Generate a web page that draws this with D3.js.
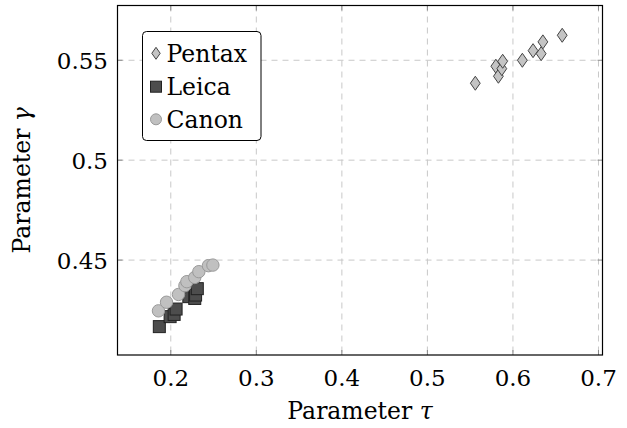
<!DOCTYPE html>
<html>
<head>
<meta charset="utf-8">
<script src="https://cdn.jsdelivr.net/npm/d3@7"></script>
<style>
  body { margin: 0; background: #fff; }
</style>
</head>
<body>
<svg id="chart" width="627" height="428"></svg>
<script>
// data: [tau, gamma]
const pentax = [
  [0.556, 0.5385], [0.580, 0.5470], [0.583, 0.5420], [0.587, 0.5458],
  [0.588, 0.5495], [0.611, 0.5500], [0.6235, 0.5548], [0.633, 0.5533],
  [0.635, 0.5592], [0.6576, 0.5625]
];
const leica = [
  [0.1866, 0.4167], [0.1992, 0.4217], [0.2039, 0.4228], [0.2062, 0.4255],
  [0.2211, 0.4317], [0.228, 0.4308], [0.229, 0.4325], [0.231, 0.4357]
];
const canon = [
  [0.1856, 0.4246], [0.195, 0.4289], [0.209, 0.4328], [0.2165, 0.4372],
  [0.2188, 0.4392], [0.228, 0.4413], [0.2328, 0.4442], [0.244, 0.4472],
  [0.2492, 0.4475]
];
const xTicks = [0.2, 0.3, 0.4, 0.5, 0.6, 0.7];
const yTicks = [0.45, 0.5, 0.55];
const legendNames = ["Pentax", "Leica", "Canon"];

const svg = d3.select('#chart')
  .attr('font-family', "'DejaVu Serif', serif");
const pLeft = 117.5, pRight = 602.5, pTop = 5.5, pBottom = 355;

const x = d3.scaleLinear().domain([0.1377, 0.7047]).range([pLeft, pRight]);
const y = d3.scaleLinear().domain([0.4025, 0.5774]).range([pBottom, pTop]);

// grid
svg.append('g').selectAll('line').data(xTicks).join('line')
  .attr('x1', d => x(d)).attr('x2', d => x(d))
  .attr('y1', pTop).attr('y2', pBottom)
  .attr('stroke', '#c8c8c8').attr('stroke-width', 1).attr('stroke-dasharray', '6,5');
svg.append('g').selectAll('line').data(yTicks).join('line')
  .attr('x1', pLeft).attr('x2', pRight)
  .attr('y1', d => y(d)).attr('y2', d => y(d))
  .attr('stroke', '#c8c8c8').attr('stroke-width', 1).attr('stroke-dasharray', '6,5');

// inner ticks on all four sides
const tk = 5;
xTicks.forEach(t => {
  svg.append('line').attr('x1', x(t)).attr('x2', x(t)).attr('y1', pBottom).attr('y2', pBottom - tk)
    .attr('stroke', '#888');
  svg.append('line').attr('x1', x(t)).attr('x2', x(t)).attr('y1', pTop).attr('y2', pTop + tk)
    .attr('stroke', '#888');
});
yTicks.forEach(t => {
  svg.append('line').attr('x1', pLeft).attr('x2', pLeft + tk).attr('y1', y(t)).attr('y2', y(t))
    .attr('stroke', '#888');
  svg.append('line').attr('x1', pRight).attr('x2', pRight - tk).attr('y1', y(t)).attr('y2', y(t))
    .attr('stroke', '#888');
});

// tick labels
svg.append('g').selectAll('text').data(xTicks).join('text')
  .attr('x', d => x(d)).attr('y', 386)
  .attr('text-anchor', 'middle').attr('font-size', 23)
  .text(d => d3.format('.1f')(d));
svg.append('g').selectAll('text').data(yTicks).join('text')
  .attr('x', 108).attr('y', d => y(d) + 8.5)
  .attr('text-anchor', 'end').attr('font-size', 23)
  .text(d => String(d));

// axis titles
const xt = svg.append('text').attr('x', (pLeft + pRight) / 2).attr('y', 419)
  .attr('text-anchor', 'middle').attr('font-size', 23.5);
xt.append('tspan').text('Parameter ');
xt.append('tspan').attr('font-style', 'italic').text('τ');
const yt = svg.append('text')
  .attr('transform', `translate(30,${(pTop + pBottom) / 2}) rotate(-90)`)
  .attr('text-anchor', 'middle').attr('font-size', 23.5);
yt.append('tspan').text('Parameter ');
yt.append('tspan').attr('font-style', 'italic').text('γ');

// markers
const diamond = (cx, cy, r) => `M${cx},${cy - r}L${cx + r * 0.7},${cy}L${cx},${cy + r}L${cx - r * 0.7},${cy}Z`;

const plot = svg.append('g');
plot.selectAll('path.pentax').data(pentax).join('path')
  .attr('class', 'pentax')
  .attr('d', d => diamond(x(d[0]), y(d[1]), 7))
  .attr('fill', '#c4c4c4').attr('stroke', '#444').attr('stroke-width', 1);
plot.selectAll('rect.leica').data(leica).join('rect')
  .attr('class', 'leica')
  .attr('x', d => x(d[0]) - 6).attr('y', d => y(d[1]) - 6)
  .attr('width', 12).attr('height', 12)
  .attr('fill', '#4d4d4d').attr('stroke', '#222').attr('stroke-width', 1);
plot.selectAll('circle.canon').data(canon).join('circle')
  .attr('class', 'canon')
  .attr('cx', d => x(d[0])).attr('cy', d => y(d[1])).attr('r', 6.2)
  .attr('fill', '#c0c0c0').attr('stroke', '#999').attr('stroke-width', 1);

// frame
svg.append('rect').attr('x', pLeft).attr('y', pTop)
  .attr('width', pRight - pLeft).attr('height', pBottom - pTop)
  .attr('fill', 'none').attr('stroke', '#000').attr('stroke-width', 1.2);

// legend
const lg = svg.append('g');
lg.append('rect').attr('x', 142.5).attr('y', 31.5).attr('width', 118.5).attr('height', 109)
  .attr('rx', 4).attr('fill', '#fff').attr('stroke', '#000').attr('stroke-width', 1);
const rowY = [53.3, 86.7, 119.3];
lg.append('path').attr('d', diamond(156, rowY[0], 6))
  .attr('fill', '#c4c4c4').attr('stroke', '#444');
lg.append('rect').attr('x', 150.5).attr('y', rowY[1] - 5.5).attr('width', 11).attr('height', 11)
  .attr('fill', '#4d4d4d').attr('stroke', '#222');
lg.append('circle').attr('cx', 156).attr('cy', rowY[2]).attr('r', 5.5)
  .attr('fill', '#c0c0c0').attr('stroke', '#999');
lg.selectAll('text').data(legendNames).join('text')
  .attr('x', 166.5).attr('y', (d, i) => rowY[i] + 8.5)
  .attr('font-size', 23.5)
  .text(d => d);
</script>
</body>
</html>
